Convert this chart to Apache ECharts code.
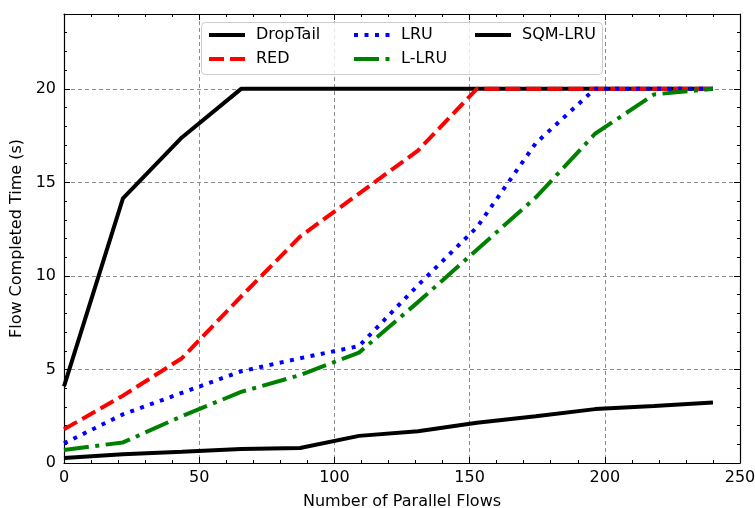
<!DOCTYPE html>
<html>
<head>
<meta charset="utf-8">
<script src="https://cdn.jsdelivr.net/npm/echarts@6/dist/echarts.min.js"></script>
<style>
  html, body { margin: 0; padding: 0; background: #fff; }
  #chart { width: 755px; height: 508px; }
</style>
</head>
<body>
<div id="chart"></div>
<script>
// x 轴：并行流数量
const flows = [0, 21.8, 43.6, 65.5, 87.3, 109.1, 130.9, 152.7, 174.5, 196.4, 218.2, 240]
// 各算法的完成时间 (s)
const dropTail = [4.1, 14.15, 17.4, 20, 20, 20, 20, 20, 20, 20, 20, 20]
const red = [1.8, 3.6, 5.6, 8.9, 12.1, 14.4, 16.7, 20, 20, 20, 20, 20]
const lru = [1.05, 2.6, 3.75, 4.9, 5.6, 6.25, 9.5, 12.6, 17.1, 20, 20, 20]
const lLru = [0.7, 1.1, 2.5, 3.8, 4.7, 5.9, 8.6, 11.4, 14.2, 17.6, 19.7, 20]
const sqmLru = [0.27, 0.47, 0.6, 0.75, 0.8, 1.45, 1.7, 2.15, 2.5, 2.88, 3.05, 3.24]

const xTicks = [0, 50, 100, 150, 200, 250]
const yTicks = [0, 5, 10, 15, 20]

const chart = echarts.init(document.getElementById('chart'))

const font = 'DejaVu Sans'
const fontSize = 16

function pairs (ys) {
  return flows.map((x, i) => [x, ys[i]])
}

function makeLine (name, ys, color, type) {
  return {
    name: name,
    type: 'line',
    data: pairs(ys),
    symbol: 'none',
    animation: false,
    lineStyle: { color: color, width: 4, type: type, cap: 'butt' },
    itemStyle: { color: color }
  }
}

// 外框四边都有朝内刻度
function xAxisOf (position, labels) {
  return {
    type: 'value',
    position: position,
    min: xTicks[0],
    max: xTicks[xTicks.length - 1],
    interval: 50,
    name: labels ? 'Number of Parallel Flows' : '',
    nameLocation: 'middle',
    nameGap: 31,
    nameTextStyle: { fontFamily: font, fontSize: fontSize, color: '#000' },
    axisLine: { show: true, onZero: false, lineStyle: { color: '#000', width: 1.2 } },
    axisTick: { show: true, inside: true, length: 6, lineStyle: { color: '#000' } },
    minorTick: { show: true, splitNumber: 5, length: 3, lineStyle: { color: '#000' } },
    axisLabel: { show: labels, fontFamily: font, fontSize: fontSize, color: '#000', margin: 7 },
    splitLine: labels ? { show: true, lineStyle: { color: '#8c8c8c', type: [4, 3], width: 1 } } : { show: false }
  }
}

function yAxisOf (position, labels) {
  return {
    type: 'value',
    position: position,
    min: yTicks[0],
    max: 24,
    interval: 5,
    name: labels ? 'Flow Completed Time (s)' : '',
    nameLocation: 'middle',
    nameGap: 33,
    nameTextStyle: { fontFamily: font, fontSize: fontSize, color: '#000' },
    axisLine: { show: true, onZero: false, lineStyle: { color: '#000', width: 1.2 } },
    axisTick: { show: true, inside: true, length: 6, lineStyle: { color: '#000' } },
    minorTick: { show: true, splitNumber: 5, length: 3, lineStyle: { color: '#000' } },
    axisLabel: { show: labels, showMaxLabel: false, fontFamily: font, fontSize: fontSize, color: '#000', margin: 8 },
    splitLine: labels ? { show: true, lineStyle: { color: '#8c8c8c', type: [4, 3], width: 1 } } : { show: false }
  }
}

function legendCol (left, names) {
  return {
    data: names,
    orient: 'vertical',
    left: left,
    top: 27,
    padding: 0,
    itemGap: 8,
    itemWidth: 36,
    itemHeight: 16,
    z: 11,
    itemStyle: { opacity: 0 },
    lineStyle: { width: 4 },
    textStyle: { fontFamily: font, fontSize: fontSize, color: '#000', padding: [0, 0, 0, 6] }
  }
}

const options = {
  animation: false,
  backgroundColor: '#fff',
  grid: { left: 64, right: 15, top: 14, bottom: 45, outerBoundsMode: 'none' },
  xAxis: [xAxisOf('bottom', true), xAxisOf('top', false)],
  yAxis: [yAxisOf('left', true), yAxisOf('right', false)],
  legend: [
    legendCol(207, ['DropTail', 'RED']),
    legendCol(352, ['LRU', 'L-LRU']),
    legendCol(473, ['SQM-LRU'])
  ],
  graphic: [{
    type: 'rect',
    left: 201,
    top: 22,
    z: 10,
    shape: { width: 401, height: 52, r: 4 },
    style: { fill: 'rgba(255,255,255,0.8)', stroke: '#cccccc', lineWidth: 1 }
  }],
  series: [
    makeLine('DropTail', dropTail, '#000000', 'solid'),
    makeLine('RED', red, '#ff0000', [15, 6]),
    makeLine('LRU', lru, '#0000ff', [4, 6.5]),
    makeLine('L-LRU', lLru, '#008000', [25, 6.5, 4, 6.5]),
    makeLine('SQM-LRU', sqmLru, '#000000', 'solid')
  ]
}

chart.setOption(options)
</script>
</body>
</html>
